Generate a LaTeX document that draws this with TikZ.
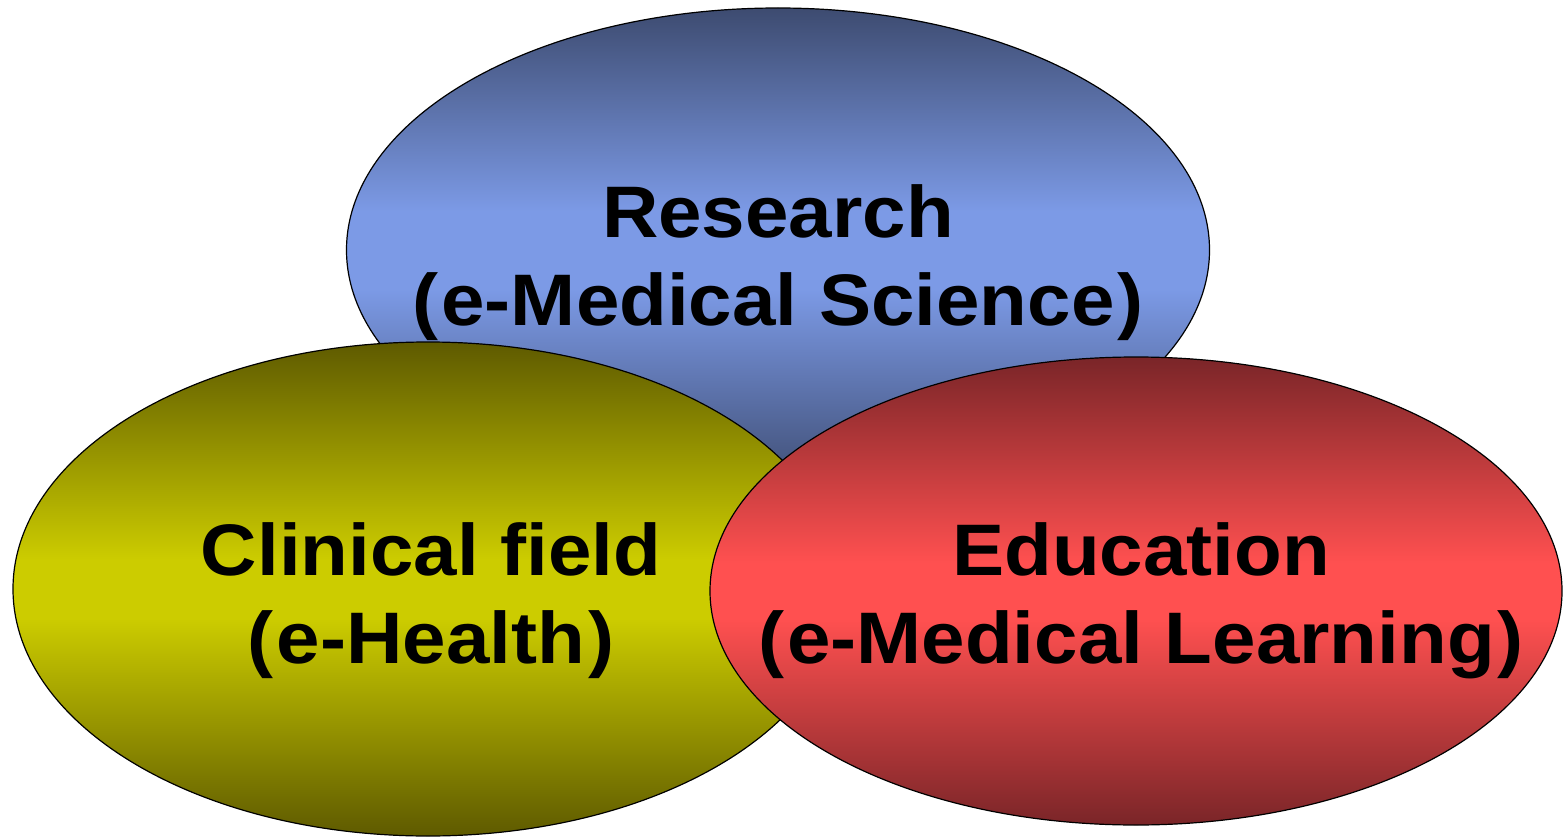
\documentclass[tikz,border=0pt]{standalone}
\usepackage{fontspec}
\setmainfont{Liberation Sans}
\newfontfamily\fieldfont{Liberation Sans}[FakeStretch = 1.07]
\usepackage{tikz}
\usetikzlibrary{shapes, positioning}

\definecolor{researchdark}{HTML}{3D4B70}
\definecolor{researchlight}{HTML}{7C9AE6}
\definecolor{clinicaldark}{HTML}{5E5A00}
\definecolor{clinicallight}{HTML}{CCCC00}
\definecolor{educationdark}{HTML}{7A2528}
\definecolor{educationlight}{HTML}{FF5050}

\pgfdeclareverticalshading{researchshade}{100bp}{color(0bp)=(researchdark);
  color(25bp)=(researchdark); color(46bp)=(researchlight);
  color(54bp)=(researchlight); color(75bp)=(researchdark);
  color(100bp)=(researchdark)}
\pgfdeclareverticalshading{clinicalshade}{100bp}{color(0bp)=(clinicaldark);
  color(25bp)=(clinicaldark); color(47bp)=(clinicallight);
  color(53bp)=(clinicallight); color(75bp)=(clinicaldark);
  color(100bp)=(clinicaldark)}
\pgfdeclareverticalshading{educationshade}{100bp}{color(0bp)=(educationdark);
  color(25bp)=(educationdark); color(47bp)=(educationlight);
  color(53bp)=(educationlight); color(75bp)=(educationdark);
  color(100bp)=(educationdark)}

\newcommand{\paren}[1]{(\kern 3pt#1\kern 3pt)}

\tikzset{
  field/.style = {ellipse, draw = black, line width = 1.2pt},
  fieldlabel/.style = {align = center, inner sep = 0pt,
    font = \fieldfont\fontsize{73}{88}\selectfont\bfseries}
}

\begin{document}
\begin{tikzpicture}[x = 1pt, y = -1pt]

\useasboundingbox (0, 0) rectangle (1563, 837);

\node[field, minimum width = 863pt, minimum height = 484pt,
   shading = researchshade] (research) at (778, 250) {};
\node[field, minimum width = 830pt, minimum height = 494pt,
   shading = clinicalshade] (clinical) at (428, 589) {};
\node[field, minimum width = 852pt, minimum height = 468pt,
   shading = educationshade] (education) at (1136, 591) {};

\node[fieldlabel] (researchtext) at (778, 263) {Research\\\paren{e-Medical Science}};
\node[fieldlabel] (clinicaltext) at (431, 601) {Clinical field\\\paren{e-Health}};
\node[fieldlabel] (educationtext) at (1141, 601) {Education\\\paren{e-Medical Learning}};

\end{tikzpicture}
\end{document}
